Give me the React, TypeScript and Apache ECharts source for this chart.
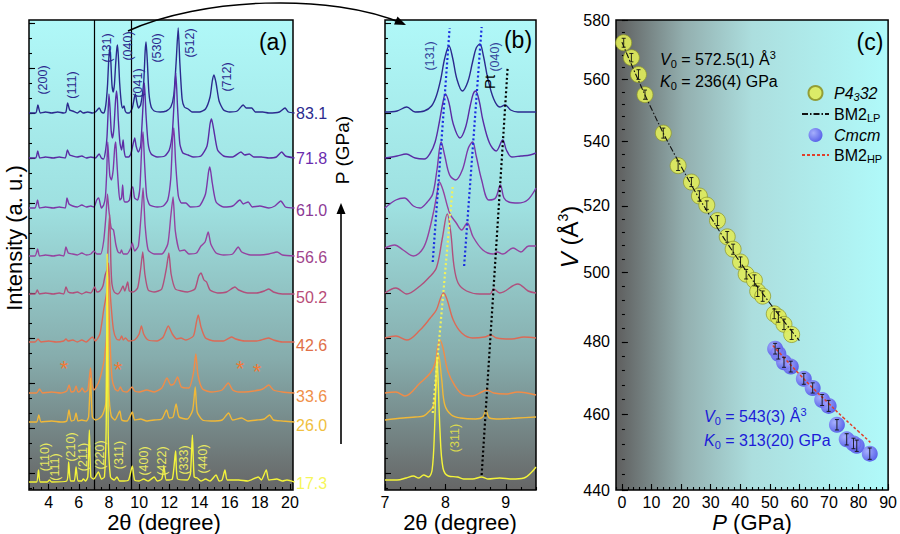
import React, { useEffect, useRef } from 'react';
import * as echarts from 'echarts';

const FONT = "'Liberation Sans', Arial, Helvetica, sans-serif";

// ---------- Panel (a) / (b): XRD patterns ----------
const PRESSURES = ['83.1', '71.8', '61.0', '56.6', '50.2', '42.6', '33.6', '26.0', '17.3'];
const CURVE_COLORS = ['#2b2a8e', '#5a2ca4', '#7c38a8', '#9543a0', '#b0507c', '#dc6a56', '#f08c48', '#f0b838', '#f4f43a'];
const LABEL_COLORS = ['#2b2a8e', '#6a2cae', '#8c3a96', '#a0448c', '#b84c78', '#e07048', '#f09048', '#f0c040', '#f6f65a'];
const LABEL_Y = [113, 158, 210, 257, 297, 345, 396, 425, 483];

// baselines of the stacked patterns (intensity offset)
const BASE_A = [377, 332, 282, 234, 196, 148, 97, 68, 8];
const BASE_B = [378, 332, 282, 234, 197, 152, 97, 70, 10];

// [2theta, intensity above baseline]
const XRD_831 = [[2.7,0],[3.15,0],[3.29,8],[3.45,0],[3.8,1],[4.2,0],[4.6,1],[5.0,0],[5.15,1],[5.26,10],[5.4,3],[5.6,2],[5.9,0],[6.1,2],[6.3,0],[6.6,1],[6.9,0],[7.1,1],[7.36,5],[7.5,1],[7.65,0],[7.75,4],[7.83,13],[7.91,29],[7.98,52],[8.06,66],[8.13,50],[8.2,28],[8.28,21],[8.36,28],[8.44,48],[8.52,64],[8.57,68],[8.64,52],[8.71,30],[8.82,10],[8.9,5],[9.0,7],[9.08,2],[9.2,0],[9.35,0],[9.55,5],[9.68,15],[9.75,19],[9.85,11],[9.95,5],[10.1,8],[10.3,30],[10.4,62],[10.46,71],[10.55,50],[10.65,20],[10.8,6],[11.0,2],[11.4,1],[11.8,2],[12.1,6],[12.3,18],[12.45,50],[12.59,85],[12.7,50],[12.85,14],[13.0,6],[13.25,4],[13.5,1],[14.0,1],[14.4,4],[14.7,16],[14.85,32],[14.96,38],[15.1,30],[15.3,12],[15.6,3],[16.0,1],[16.5,2],[16.9,8],[17.1,5],[17.46,5],[17.7,1],[18.2,1],[18.6,0],[19.3,1],[19.67,5],[19.9,1],[20.3,0]];
const XRD_718 = [[2.7,0],[3.15,0],[3.28,7],[3.42,0],[3.8,1],[4.3,0],[4.7,1],[5.1,0],[5.25,8],[5.4,3],[5.6,2],[5.9,1],[6.2,2],[6.5,0],[6.8,1],[7.1,0],[7.35,4],[7.5,0],[7.65,-1],[7.78,8],[7.87,21],[7.95,48],[8.0,64],[8.07,50],[8.15,27],[8.24,20],[8.33,30],[8.43,56],[8.5,67],[8.56,58],[8.62,38],[8.73,15],[8.84,8],[8.94,18],[9.0,8],[9.1,1],[9.3,1],[9.45,4],[9.6,14],[9.71,20],[9.8,12],[9.95,6],[10.1,12],[10.25,50],[10.35,75],[10.45,45],[10.6,14],[10.8,4],[11.2,1],[11.7,2],[12.0,8],[12.2,25],[12.35,65],[12.43,85],[12.55,50],[12.7,14],[12.9,5],[13.25,3],[13.6,1],[14.1,2],[14.5,12],[14.7,34],[14.8,39],[14.95,28],[15.2,8],[15.6,2],[16.2,1],[16.75,6],[17.0,3],[17.3,4],[17.6,1],[18.1,1],[18.6,0],[19.1,1],[19.45,6],[19.7,2],[20.3,0]];
const XRD_610 = [[2.7,0],[3.1,0],[3.27,8],[3.4,0],[3.8,1],[4.3,0],[4.7,1],[5.1,0],[5.22,10],[5.35,4],[5.6,2],[5.9,1],[6.2,3],[6.5,1],[6.8,2],[7.0,1],[7.19,8],[7.32,10],[7.5,0],[7.65,3],[7.77,12],[7.85,35],[7.92,66],[7.99,48],[8.06,32],[8.16,28],[8.28,38],[8.38,60],[8.45,66],[8.51,50],[8.6,28],[8.72,8],[8.83,10],[8.91,23],[8.97,10],[9.05,6],[9.2,6],[9.36,8],[9.5,20],[9.58,21],[9.7,10],[9.9,8],[10.05,20],[10.17,60],[10.26,76],[10.36,45],[10.5,12],[10.7,3],[11.2,1],[11.6,2],[11.9,8],[12.1,30],[12.22,70],[12.3,80],[12.42,45],[12.6,12],[12.8,5],[13.1,5],[13.4,1],[14.0,2],[14.4,14],[14.6,36],[14.69,41],[14.85,25],[15.1,6],[15.6,1],[16.2,2],[16.68,8],[16.9,4],[17.23,6],[17.5,1],[18.0,2],[18.6,0],[19.0,2],[19.39,7],[19.7,1],[20.3,0]];
const XRD_566 = [[2.7,0],[3.1,0],[3.27,7],[3.4,0],[3.8,1],[4.3,0],[4.7,1],[5.0,0],[5.15,9],[5.3,3],[5.6,2],[5.9,1],[6.2,3],[6.5,1],[6.8,2],[7.0,5],[7.2,2],[7.45,2],[7.65,15],[7.8,40],[7.9,62],[8.0,45],[8.15,28],[8.3,26],[8.45,12],[8.6,4],[8.75,3],[8.83,6],[8.95,2],[9.2,2],[9.45,8],[9.55,13],[9.7,5],[9.95,10],[10.15,45],[10.26,68],[10.4,30],[10.6,6],[11.0,2],[11.5,2],[11.9,12],[12.1,40],[12.25,59],[12.4,25],[12.7,5],[13.0,6],[13.3,2],[13.8,3],[14.1,10],[14.37,14],[14.58,24],[14.75,12],[15.1,3],[15.6,1],[16.2,2],[16.57,9],[16.8,4],[17.4,1],[18.0,1],[18.6,2],[19.15,4],[19.5,1],[20.3,0]];
const XRD_502 = [[2.7,0],[3.1,0],[3.25,4],[3.4,0],[3.8,1],[4.3,0],[4.7,1],[5.0,0],[5.15,7],[5.3,2],[5.6,1],[5.9,2],[6.2,0],[6.5,2],[6.8,1],[7.05,7],[7.2,2],[7.4,3],[7.6,8],[7.75,19],[7.88,25],[7.97,60],[8.05,80],[8.13,30],[8.2,10],[8.35,2],[8.6,0],[8.8,4],[8.93,8],[9.05,3],[9.24,12],[9.35,3],[9.6,2],[9.9,6],[10.1,25],[10.24,42],[10.38,20],[10.6,4],[11.0,2],[11.5,5],[11.8,25],[11.97,41],[12.12,20],[12.4,5],[12.8,3],[13.2,2],[13.7,5],[13.95,18],[14.1,21],[14.3,14],[14.47,12],[14.7,4],[15.2,1],[15.8,2],[16.35,7],[16.6,4],[17.2,1],[17.8,1],[18.3,3],[18.6,5],[18.9,2],[19.5,0],[20.3,0]];
const XRD_426 = [[2.7,0],[3.1,0],[3.3,3],[3.5,0],[4.0,1],[4.5,0],[5.0,1],[5.15,3],[5.3,1],[5.6,2],[5.9,0],[6.2,2],[6.5,0],[6.9,5],[7.1,1],[7.4,8],[7.65,32],[7.85,50],[7.97,79],[8.1,45],[8.3,12],[8.5,3],[8.7,2],[8.84,6],[8.95,2],[9.1,4],[9.3,1],[9.7,2],[10.0,8],[10.15,16],[10.3,8],[10.6,2],[11.2,1],[11.6,5],[11.93,16],[12.2,8],[12.5,3],[12.77,4],[13.1,2],[13.6,6],[13.8,20],[13.92,27],[14.1,15],[14.4,4],[15.0,1],[15.6,1],[16.13,5],[16.4,3],[17.0,1],[17.8,1],[18.3,3],[18.57,4],[18.9,2],[19.5,0],[20.3,0]];
const XRD_336 = [[2.7,0],[3.2,0],[3.4,4],[3.6,0],[4.2,1],[4.8,0],[5.2,2],[5.36,8],[5.5,1],[5.7,2],[5.82,7],[5.95,1],[6.1,2],[6.22,5],[6.4,1],[6.6,3],[6.78,25],[6.88,8],[7.0,3],[7.3,10],[7.5,20],[7.7,35],[7.85,60],[7.95,115],[8.05,60],[8.2,15],[8.4,4],[8.6,2],[8.76,6],[8.9,2],[9.2,1],[9.53,6],[9.7,2],[10.0,1],[10.5,3],[11.0,1],[11.5,5],[11.85,15],[12.1,8],[12.3,9],[12.55,16],[12.8,6],[13.3,5],[13.6,20],[13.76,39],[13.9,18],[14.2,4],[14.8,1],[15.5,3],[15.91,10],[16.2,3],[16.6,1],[17.0,1],[17.6,2],[18.2,4],[18.6,8],[18.9,3],[19.5,1],[20.3,0]];
const XRD_260 = [[2.7,0],[3.2,0],[3.35,7],[3.5,0],[4.2,1],[4.8,0],[5.2,1],[5.35,12],[5.5,1],[5.7,2],[5.82,9],[5.95,1],[6.2,2],[6.5,1],[6.65,5],[6.78,44],[6.9,5],[7.1,2],[7.4,4],[7.6,8],[7.8,20],[7.9,150],[8.0,30],[8.15,6],[8.4,2],[8.72,11],[8.85,2],[9.2,1],[9.55,10],[9.7,2],[10.1,3],[10.5,1],[11.0,2],[11.5,3],[11.82,12],[12.0,4],[12.25,5],[12.45,18],[12.65,5],[13.2,3],[13.55,12],[13.72,35],[13.85,10],[14.2,2],[14.8,1],[15.5,2],[15.93,9],[16.2,2],[16.8,4],[17.2,1],[17.8,2],[18.3,3],[18.65,7],[18.9,2],[19.5,1],[20.3,0]];
const XRD_173 = [[2.7,0],[3.2,0],[3.33,12],[3.45,0],[3.9,0],[4.06,2],[4.2,0],[5.2,1],[5.33,20],[5.45,1],[5.7,1],[5.82,15],[5.95,1],[6.2,1],[6.3,3],[6.45,1],[6.6,5],[6.7,52],[6.8,5],[7.0,3],[7.3,10],[7.5,3],[7.7,5],[7.82,60],[7.88,228],[7.95,50],[8.1,5],[8.35,2],[8.53,5],[8.7,1],[9.0,1],[9.3,2],[9.55,16],[9.7,2],[10.0,1],[10.3,3],[10.6,1],[11.0,5],[11.2,1],[11.5,3],[11.65,15],[11.8,2],[12.2,3],[12.42,31],[12.55,3],[13.2,2],[13.4,8],[13.53,47],[13.65,5],[13.85,4],[14.1,1],[14.4,3],[14.7,1],[15.1,7],[15.3,1],[15.5,2],[15.69,12],[15.85,2],[16.6,2],[17.2,1],[17.9,5],[18.1,2],[18.43,12],[18.6,2],[19.12,3],[19.5,1],[19.8,2],[20.3,0]];
const PATTERNS_A = [XRD_831, XRD_718, XRD_610, XRD_566, XRD_502, XRD_426, XRD_336, XRD_260, XRD_173];

// zoomed region 7 - 9.5 degrees (panel b)
const ZOOM_831 = [[7.0,0],[7.2,1],[7.36,5],[7.5,0],[7.65,1],[7.77,6],[7.85,16],[7.92,32],[7.99,54],[8.06,66],[8.12,54],[8.19,33],[8.28,21],[8.37,30],[8.45,50],[8.51,64],[8.57,68],[8.63,56],[8.7,34],[8.8,13],[8.9,5],[8.99,7],[9.08,2],[9.2,0],[9.35,0],[9.5,0]];
const ZOOM_718 = [[7.0,0],[7.2,2],[7.35,4],[7.5,0],[7.65,-1],[7.75,5],[7.83,16],[7.9,36],[7.96,56],[8.0,64],[8.06,55],[8.13,34],[8.24,20],[8.33,30],[8.41,52],[8.46,64],[8.5,67],[8.56,57],[8.62,38],[8.73,15],[8.84,7],[8.95,18],[9.01,8],[9.1,1],[9.25,2],[9.4,3],[9.5,5]];
const ZOOM_610 = [[7.0,0],[7.18,8],[7.32,10],[7.47,2],[7.58,0],[7.7,6],[7.79,14],[7.86,38],[7.93,66],[7.99,52],[8.07,33],[8.17,28],[8.28,38],[8.38,60],[8.45,66],[8.51,52],[8.6,28],[8.72,8],[8.83,10],[8.91,23],[8.97,10],[9.05,6],[9.2,5],[9.36,8],[9.5,20]];
const ZOOM_566 = [[7.0,8],[7.16,11],[7.3,6],[7.47,0],[7.6,5],[7.69,16],[7.8,43],[7.86,62],[7.9,74],[7.96,66],[8.07,43],[8.18,33],[8.27,26],[8.36,33],[8.46,19],[8.62,6],[8.79,2],[8.86,4],[8.95,2],[9.12,8],[9.25,4],[9.38,10],[9.5,10]];
const ZOOM_502 = [[7.0,0],[7.18,5],[7.36,-1],[7.58,7],[7.72,15],[7.85,25],[7.95,55],[8.03,79],[8.09,60],[8.14,28],[8.21,10],[8.35,2],[8.57,-1],[8.74,-1],[8.8,4],[8.9,0],[9.2,9],[9.37,2],[9.5,0]];
const ZOOM_426 = [[7.0,0],[7.18,2],[7.36,-2],[7.58,8],[7.75,20],[7.85,28],[7.92,40],[7.97,45],[8.03,38],[8.13,18],[8.27,5],[8.45,0],[8.65,1],[8.75,3],[8.85,0],[9.1,-1],[9.3,1],[9.5,0]];
const ZOOM_336 = [[7.0,0],[7.18,1],[7.33,-3],[7.58,10],[7.75,20],[7.83,30],[7.87,45],[7.91,53],[7.96,45],[8.04,22],[8.15,8],[8.3,-2],[8.45,-3],[8.6,1],[8.69,3],[8.8,0],[9.0,-1],[9.2,1],[9.5,-2]];
const ZOOM_260 = [[7.0,0],[7.3,2],[7.5,3],[7.64,4],[7.72,8],[7.8,14],[7.85,35],[7.89,65],[7.94,40],[7.99,15],[8.1,5],[8.25,2],[8.5,1],[8.62,3],[8.67,10],[8.73,2],[8.9,1],[9.2,2],[9.5,3]];
const ZOOM_173 = [[7.0,0],[7.2,0],[7.35,2],[7.47,4],[7.56,2],[7.64,5],[7.72,3],[7.78,10],[7.82,50],[7.86,123],[7.91,50],[7.96,12],[8.05,4],[8.2,3],[8.3,1],[8.45,1],[8.6,3],[8.7,1],[8.9,2],[9.1,1],[9.3,2],[9.43,8],[9.5,13]];
const PATTERNS_B = [ZOOM_831, ZOOM_718, ZOOM_610, ZOOM_566, ZOOM_502, ZOOM_426, ZOOM_336, ZOOM_260, ZOOM_173];

// guide lines in (b): [[x1,y1],[x2,y2]]
const GUIDE_131 = [[7.79, 228], [8.07, 462]];
const GUIDE_040 = [[8.31, 224], [8.60, 463]];
const GUIDE_PT = [[8.60, 15], [9.03, 422]];
const GUIDE_311 = [[7.79, 77], [8.12, 303]];
const ZOOM_WINDOW = [7.0, 9.45];

const A_X_LABELS = [4, 6, 8, 10, 12, 14, 16, 18, 20];
const B_X_LABELS = [7, 8, 9];
const AB_Y_MAJOR = [17, 62, 107, 152, 197, 242, 287, 332, 377, 422, 467];

// ---------- Panel (c): EOS ----------
const P_LP = [0.6, 3.2, 5.6, 7.8, 14.0, 19.0, 23.5, 26.2, 28.7, 32.3, 35.6, 37.6, 40.1, 42.0, 44.8, 45.9, 47.6, 51.5, 52.9, 54.8, 57.4];
const V_LP = [572.3, 567.3, 561.7, 555.1, 542.7, 532.4, 527.3, 523.0, 520.2, 515.5, 510.6, 506.9, 503.1, 499.5, 497.7, 494.5, 493.1, 488.0, 487.1, 485.0, 482.1];
const E_LP = [1.5, 1.4, 1.6, 1.5, 1.6, 1.5, 1.4, 1.6, 1.3, 1.5, 1.6, 1.5, 1.5, 1.4, 1.6, 1.5, 1.5, 1.4, 1.5, 1.5, 1.4];
const P_HP = [51.8, 52.9, 54.8, 57.1, 61.5, 64.5, 67.7, 69.9, 72.7, 76.0, 78.3, 79.4, 83.8];
const V_HP = [478.1, 476.7, 474.3, 473.1, 469.7, 467.2, 463.9, 462.3, 457.2, 453.3, 452.2, 451.6, 449.5];
const E_HP = [1.5, 1.5, 1.4, 1.5, 1.5, 1.4, 1.5, 1.5, 1.4, 1.5, 1.4, 1.5, 1.5];
const FIT_LP_P = [0, 10, 20, 30, 40, 50, 60];
const FIT_LP_V = [572.5, 550.5, 532.2, 516.6, 503.0, 491.1, 480.4];
const FIT_HP_P = [51, 55, 60, 65, 70, 75, 80, 84];
const FIT_HP_V = [479.0, 475.4, 471.0, 466.8, 462.9, 459.0, 455.4, 452.5];
const C_X_LABELS = [0, 10, 20, 30, 40, 50, 60, 70, 80, 90];
const C_Y_LABELS = [440, 460, 480, 500, 520, 540, 560, 580];

const range = (a: number, b: number, s: number) => {
  const out: number[] = [];
  for (let v = a; v <= b + 1e-9; v += s) out.push(+v.toFixed(4));
  return out;
};

function buildOption() {
  const ln = Math.log;
  const gradAB = new echarts.graphic.LinearGradient(0, 0, 0, 1, [
    { offset: 0, color: '#b0f8f8' },
    { offset: 0.4, color: '#9ee0e0' },
    { offset: 0.72, color: '#86acac' },
    { offset: 1, color: '#666666' },
  ]);
  const gradC = new echarts.graphic.LinearGradient(0, 0, 1, 0, [
    { offset: 0, color: '#5e5e5e' },
    { offset: 0.25, color: '#93afaf' },
    { offset: 0.5, color: '#acdede' },
    { offset: 1, color: '#b0fafa' },
  ]);
  const grid = (left: number, width: number, bg: any) => ({
    left, top: 20, width, height: 470, show: true, backgroundColor: bg,
    borderColor: '#000', borderWidth: 1.5,
  });
  const tickStyle = { color: '#000', width: 1.1 };
  const labelStyle = { fontSize: 16, color: '#000', fontFamily: FONT, margin: 4 };
  const majorX = (gi: number, min: number, max: number, vals: number[]) => ({
    gridIndex: gi, type: 'value', min, max, position: 'bottom',
    axisLine: { show: false }, splitLine: { show: false },
    axisTick: { inside: true, length: 6, customValues: vals, lineStyle: tickStyle },
    axisLabel: { ...labelStyle, customValues: vals },
  });
  const minorX = (gi: number, min: number, max: number, vals: number[]) => ({
    gridIndex: gi, type: 'value', min, max, position: 'bottom',
    axisLine: { show: false }, splitLine: { show: false },
    axisTick: { inside: true, length: 3, customValues: vals, lineStyle: tickStyle },
    axisLabel: { show: false },
  });
  const majorY = (gi: number, min: number, max: number, vals: number[], labels: boolean, fmt?: any) => ({
    gridIndex: gi, type: 'value', min, max, position: 'left',
    axisLine: { show: false }, splitLine: { show: false },
    axisTick: { inside: true, length: 6, customValues: vals, lineStyle: tickStyle },
    axisLabel: labels ? { ...labelStyle, margin: 6, customValues: vals, formatter: fmt } : { show: false },
  });
  const minorY = (gi: number, min: number, max: number, vals: number[]) => ({
    gridIndex: gi, type: 'value', min, max, position: 'left',
    axisLine: { show: false }, splitLine: { show: false },
    axisTick: { inside: true, length: 3, customValues: vals, lineStyle: tickStyle },
    axisLabel: { show: false },
  });

  const series: any[] = [];
  PATTERNS_A.forEach((pts, i) => {
    series.push({
      type: 'line', xAxisIndex: 0, yAxisIndex: 0, symbol: 'none', smooth: 0.2,
      data: pts.map(([x, h]) => [x, BASE_A[i] + h]), clip: true, silent: true,
      lineStyle: { color: CURVE_COLORS[i], width: 1.4 }, z: 2 + i,
      markLine: i === 0 ? {
        symbol: 'none', silent: true, label: { show: false },
        lineStyle: { color: '#000', width: 1.2, type: 'solid' },
        data: ZOOM_WINDOW.map((x) => ({ xAxis: x })),
      } : undefined,
    });
  });
  PATTERNS_B.forEach((pts, i) => {
    series.push({
      type: 'line', xAxisIndex: 2, yAxisIndex: 2, symbol: 'none', smooth: 0.35,
      data: pts.map(([x, h]) => [x, BASE_B[i] + h]), clip: true, silent: true,
      lineStyle: { color: CURVE_COLORS[i], width: 1.4 }, z: 2 + i,
    });
  });
  const guide = (d: number[][], color: string) => ({
    type: 'line', xAxisIndex: 2, yAxisIndex: 2, symbol: 'none', data: d, silent: true, z: 20,
    lineStyle: { color, width: 2.2, type: [2, 2.5] },
  });
  series.push(guide(GUIDE_131, '#1a2ee0'), guide(GUIDE_040, '#1a2ee0'), guide(GUIDE_PT, '#000000'), guide(GUIDE_311, '#f2f25a'));

  // panel (c)
  const errSeries = (P: number[], V: number[], E: number[]) => ({
    type: 'custom', xAxisIndex: 4, yAxisIndex: 4, silent: true, z: 12,
    data: P.map((p, i) => [p, ln(V[i] - E[i]), ln(V[i] + E[i])]),
    encode: { x: 0, y: [1, 2] },
    renderItem: (params: any, api: any) => {
      const a = api.coord([api.value(0), api.value(1)]);
      const b = api.coord([api.value(0), api.value(2)]);
      const st = { stroke: '#111', lineWidth: 0.9 };
      return {
        type: 'group', children: [
          { type: 'line', shape: { x1: a[0], y1: a[1], x2: b[0], y2: b[1] }, style: st },
          { type: 'line', shape: { x1: a[0] - 2, y1: a[1], x2: a[0] + 2, y2: a[1] }, style: st },
          { type: 'line', shape: { x1: b[0] - 2, y1: b[1], x2: b[0] + 2, y2: b[1] }, style: st },
        ],
      };
    },
  });
  series.push({
    name: 'P4_332', type: 'scatter', xAxisIndex: 4, yAxisIndex: 4, symbolSize: 16, z: 10,
    data: P_LP.map((p, i) => [p, ln(V_LP[i])]),
    itemStyle: { color: '#e0ec5a', borderColor: '#8e9628', borderWidth: 0.8, opacity: 0.9 },
  });
  series.push({
    name: 'BM2_LP', type: 'line', xAxisIndex: 4, yAxisIndex: 4, symbol: 'none', smooth: true, z: 11,
    data: FIT_LP_P.map((p, i) => [p, ln(FIT_LP_V[i])]),
    itemStyle: { color: '#111' },
    lineStyle: { color: '#111', width: 1.1, type: [6, 2, 1.5, 2] },
  });
  series.push({
    name: 'Cmcm', type: 'scatter', xAxisIndex: 4, yAxisIndex: 4, symbolSize: 16, z: 10,
    data: P_HP.map((p, i) => [p, ln(V_HP[i])]),
    itemStyle: {
      color: new echarts.graphic.RadialGradient(0.35, 0.35, 0.75, [
        { offset: 0, color: '#a4a4ff' }, { offset: 1, color: '#4242e6' },
      ]),
      opacity: 0.85,
    },
  });
  series.push({
    name: 'BM2_HP', type: 'line', xAxisIndex: 4, yAxisIndex: 4, symbol: 'none', smooth: true, z: 11,
    data: FIT_HP_P.map((p, i) => [p, ln(FIT_HP_V[i])]),
    itemStyle: { color: '#e0402c' },
    lineStyle: { color: '#e0402c', width: 1.5, type: [3, 2] },
  });
  series.push(errSeries(P_LP, V_LP, E_LP), errSeries(P_HP, V_HP, E_HP));

  const legendText: Record<string, string> = {
    P4_332: '{it|P4}{isub|3}{it|32}',
    BM2_LP: '{n|BM2}{sub|LP}',
    Cmcm: '{it|Cmcm}',
    BM2_HP: '{n|BM2}{sub|HP}',
  };

  // ---------- graphic annotations ----------
  const g: any[] = [];
  const txt = (text: string, x: number, y: number, size: number, color = '#000', rot = 0, align = 'center', extra: any = {}) => ({
    type: 'text', x, y, rotation: rot, z: 50,
    style: { text, fill: color, fontSize: size, fontFamily: FONT, align, verticalAlign: 'middle', ...extra },
  });
  const R = Math.PI / 2;
  // axis titles
  g.push(txt('Intensity (a. u.)', 14, 238, 22, '#000', R));
  g.push(txt('2θ (degree)', 164, 522, 22));
  g.push(txt('2θ (degree)', 460, 522, 22));
  g.push(txt('{i|P} (GPa)', 752, 522, 22, '#000', 0, 'center', { rich: { i: { fontStyle: 'italic', fontSize: 22, fontFamily: FONT, fill: '#000' } } }));
  g.push(txt('{i|V} (Å{sup|3})', 569, 237, 24, '#000', R, 'center', {
    rich: {
      i: { fontStyle: 'italic', fontSize: 24, lineHeight: 26, fontFamily: FONT, fill: '#000' },
      sup: { fontSize: 14, lineHeight: 14, verticalAlign: 'top', fontFamily: FONT, fill: '#000' },
    },
  }));
  // panel tags
  g.push(txt('(a)', 273, 42, 23));
  g.push(txt('(b)', 518, 40, 23));
  g.push(txt('(c)', 870, 42, 23));
  // pressure labels
  PRESSURES.forEach((p, i) => g.push(txt(p, 296, LABEL_Y[i], 16, LABEL_COLORS[i], 0, 'left')));
  g.push(txt('P (GPa)', 342, 150, 19, '#000', R));
  g.push({ type: 'line', shape: { x1: 341, y1: 444, x2: 341, y2: 212 }, style: { stroke: '#000', lineWidth: 1.6 }, z: 50 });
  g.push({ type: 'polygon', shape: { points: [[341, 203], [336.5, 214], [345.5, 214]] }, style: { fill: '#000' }, z: 50 });
  // hkl labels panel (a)
  const hklTop: [string, number, number][] = [
    ['(200)', 43, 80], ['(111)', 72, 85], ['(131)', 107, 48], ['(040)', 128, 46],
    ['(041)', 138, 83], ['(530)', 157, 48], ['(512)', 190, 43], ['(712)', 227, 77],
  ];
  hklTop.forEach(([t, x, y]) => g.push(txt(t, x, y, 12.5, '#2b2a8e', R)));
  const hklBot: [string, number, number][] = [
    ['(110)', 45, 457], ['(111)', 55, 467], ['(210)', 71, 447], ['(211)', 83, 457], ['(220)', 100, 455],
    ['(311)', 119, 455], ['(400)', 144, 461], ['(422)', 162, 461], ['(333)', 184, 460], ['(440)', 203, 459],
  ];
  hklBot.forEach(([t, x, y]) => g.push(txt(t, x, y, 12.5, '#e8e860', R)));
  // stars
  [[64, 363], [118, 364], [240, 363], [257, 366]].forEach(([x, y]) => g.push(txt('*', x, y + 5, 22, '#f07a38')));
  // panel (b) labels
  g.push(txt('(131)', 430, 56, 12.5, '#34449a', R));
  g.push(txt('(040)', 495, 57, 12.5, '#34449a', R));
  g.push(txt('Pt', 489, 82, 15, '#000', R));
  g.push(txt('(311)', 455, 438, 12.5, '#d8d850', R));
  // curved arrow from (a) box to (b)
  g.push({
    type: 'bezierCurve', z: 50,
    shape: { x1: 128, y1: 31, cpx1: 200, cpy1: -2, cpx2: 330, cpy2: -8, x2: 404, y2: 24 },
    style: { stroke: '#000', lineWidth: 1.5, fill: 'none' },
  });
  g.push({ type: 'polygon', z: 50, shape: { points: [[406, 25], [394, 24.5], [397.5, 16.5]] }, style: { fill: '#000' } });
  // EOS annotations
  const eosRich = (c: string) => ({
    it: { fontStyle: 'italic', fontSize: 16, lineHeight: 20, fontFamily: FONT, fill: c },
    n: { fontSize: 16, lineHeight: 20, fontFamily: FONT, fill: c },
    sub: { fontSize: 11, lineHeight: 11, verticalAlign: 'bottom', fontFamily: FONT, fill: c },
    sup: { fontSize: 11, lineHeight: 11, verticalAlign: 'top', fontFamily: FONT, fill: c },
  });
  g.push(txt('{it|V}{sub|0}{n| = 572.5(1) Å}{sup|3}', 660, 59, 16, '#000', 0, 'left', { rich: eosRich('#000') }));
  g.push(txt('{it|K}{sub|0}{n| = 236(4) GPa}', 660, 81, 16, '#000', 0, 'left', { rich: eosRich('#000') }));
  g.push(txt('{it|V}{sub|0}{n| = 543(3) Å}{sup|3}', 704, 416, 16, '#1c1cd8', 0, 'left', { rich: eosRich('#1c1cd8') }));
  g.push(txt('{it|K}{sub|0}{n| = 313(20) GPa}', 704, 440, 16, '#1c1cd8', 0, 'left', { rich: eosRich('#1c1cd8') }));

  return {
    animation: false,
    backgroundColor: '#ffffff',
    textStyle: { fontFamily: FONT },
    grid: [grid(29, 264, gradAB), grid(385, 151, gradAB), grid(616, 275, gradC)],
    xAxis: [
      majorX(0, 2.7, 20.2, A_X_LABELS), minorX(0, 2.7, 20.2, range(3, 20, 0.5)),
      majorX(1, 7, 9.5, B_X_LABELS), minorX(1, 7, 9.5, range(7, 9.5, 0.25)),
      majorX(2, -2, 90, C_X_LABELS), minorX(2, -2, 90, range(-2, 90, 2)),
    ],
    yAxis: [
      majorY(0, 0, 470, AB_Y_MAJOR, false), minorY(0, 0, 470, range(2, 470, 15)),
      majorY(1, 0, 470, AB_Y_MAJOR, false), minorY(1, 0, 470, range(2, 470, 15)),
      majorY(2, ln(440), ln(580), C_Y_LABELS.map((v) => ln(v)), true, (v: number) => String(Math.round(Math.exp(v)))),
      minorY(2, ln(440), ln(580), range(440, 580, 4).map((v) => ln(v))),
    ],
    legend: {
      data: [
        'P4_332',
        { name: 'BM2_LP', itemStyle: { opacity: 0 } },
        'Cmcm',
        { name: 'BM2_HP', itemStyle: { opacity: 0 } },
      ],
      orient: 'vertical', left: 796, top: 80, itemWidth: 27, itemHeight: 14, itemGap: 4,
      selectedMode: false,
      formatter: (name: string) => legendText[name] || name,
      textStyle: {
        color: '#000', fontSize: 16, fontFamily: FONT,
        rich: {
          it: { fontStyle: 'italic', fontSize: 16, lineHeight: 18, fontFamily: FONT, color: '#000' },
          isub: { fontStyle: 'italic', fontSize: 11, lineHeight: 11, verticalAlign: 'bottom', fontFamily: FONT, color: '#000' },
          n: { fontSize: 16, lineHeight: 18, fontFamily: FONT, color: '#000' },
          sub: { fontSize: 11, lineHeight: 11, verticalAlign: 'bottom', fontFamily: FONT, color: '#000' },
        },
      },
    },
    series,
    graphic: g,
  };
}

export default function App() {
  const ref = useRef<HTMLDivElement>(null);
  useEffect(() => {
    if (!ref.current) return;
    const chart = echarts.init(ref.current, null, { renderer: 'svg' });
    chart.setOption(buildOption() as any);
    return () => chart.dispose();
  }, []);
  return (
    <div
      ref={ref}
      style={{ position: 'fixed', left: 0, top: 0, width: 900, height: 534, background: '#fff' }}
    />
  );
}
